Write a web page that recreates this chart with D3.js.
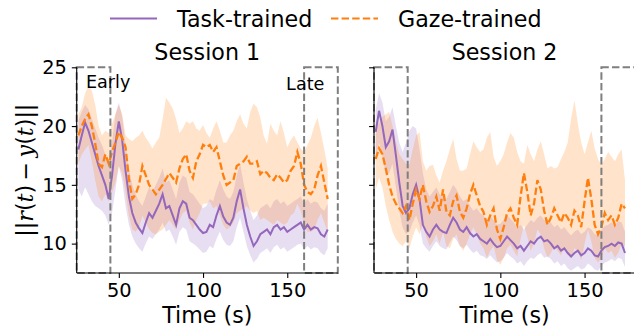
<!DOCTYPE html>
<html>
<head>
<meta charset="utf-8">
<script src="https://cdn.jsdelivr.net/npm/d3@7"></script>
<style>
  body { margin: 0; background: #fff; }
  text { font-family: "DejaVu Sans", sans-serif; fill: #000; }
</style>
</head>
<body>
<div id="chart-container"></div>
<script>
// sample times (s)
const timeS = [26, 28, 30, 32, 34, 36, 38, 40, 42, 44, 46, 48, 50, 52, 54, 56, 58, 60, 62, 64,
  66, 68, 70, 72, 74, 76, 78, 80, 82, 84, 86, 88, 90, 92, 94, 96, 98, 100, 102, 104,
  106, 108, 110, 112, 114, 116, 118, 120, 122, 124, 126, 128, 130, 132, 134, 136, 138, 140, 142, 144,
  146, 148, 150, 152, 154, 156, 158, 160, 162, 164, 166, 168, 170, 172, 174];

const sessions = ['Session 1', 'Session 2'];
const seriesNames = ['Task-trained', 'Gaze-trained'];
const xTicks = [50, 100, 150];
const yTicks = [10, 15, 20, 25];
const earlyWindow = [25, 45];
const lateWindow = [160, 180];

// Session 1
const task1 = [18.0, 19.2, 20.3, 19.6, 18.6, 17.6, 16.6, 15.8, 15.0, 13.8,
  15.8, 18.5, 20.4, 18.8, 16.2, 14.0, 12.6, 11.8, 11.3, 10.9,
  11.8, 12.6, 12.2, 12.8, 13.4, 14.2, 13.0, 13.2, 12.4, 11.6,
  13.0, 13.6, 13.4, 12.2, 12.0, 11.6, 11.2, 10.9, 11.0, 11.6,
  11.4, 12.4, 13.2, 12.3, 11.8, 11.6, 12.2, 13.6, 14.6, 13.0,
  11.6, 10.6, 9.8, 10.2, 10.8, 11.0, 11.2, 10.8, 11.4, 11.6,
  11.2, 11.4, 11.0, 11.2, 11.4, 11.6, 11.8, 11.2, 11.6, 11.2,
  11.4, 11.3, 10.8, 10.6, 11.2];
const task1Hi = [20.5, 21.2, 21.8, 21.4, 20.6, 19.8, 19.0, 18.4, 17.6, 17.0,
  18.6, 21.0, 22.0, 20.8, 18.4, 16.4, 15.0, 14.2, 13.6, 13.2,
  14.0, 14.8, 14.4, 15.0, 15.6, 16.4, 15.2, 15.4, 14.6, 13.8,
  15.2, 15.8, 15.6, 14.4, 14.2, 13.8, 13.4, 13.0, 13.2, 13.8,
  13.6, 14.6, 15.4, 14.6, 14.0, 13.8, 14.4, 15.8, 16.8, 15.2,
  13.8, 12.8, 12.0, 12.4, 13.0, 13.2, 13.4, 13.0, 13.6, 13.8,
  13.4, 13.6, 13.2, 13.4, 13.6, 13.8, 14.0, 13.4, 13.8, 13.4,
  13.6, 13.5, 13.0, 12.8, 13.4];
const task1Lo = [14.6, 14.0, 14.8, 14.2, 13.6, 13.2, 13.0, 12.8, 12.4, 11.6,
  12.6, 14.6, 16.6, 15.4, 13.2, 11.6, 10.6, 10.0, 9.6, 9.3,
  10.0, 10.6, 10.4, 10.8, 11.2, 11.8, 11.0, 11.2, 10.6, 9.9,
  11.0, 11.4, 11.2, 10.2, 10.0, 9.8, 9.5, 9.2, 9.3, 9.8,
  9.6, 10.4, 11.0, 10.3, 9.9, 9.8, 10.2, 11.4, 12.2, 11.0,
  9.8, 9.0, 8.4, 8.7, 9.2, 9.4, 9.6, 9.2, 9.7, 9.9,
  9.5, 9.7, 9.3, 9.5, 9.7, 9.9, 10.0, 9.5, 9.8, 9.5,
  9.7, 9.6, 9.2, 9.0, 9.6];
const gaze1 = [19.2, 20.0, 20.6, 21.0, 20.0, 18.5, 16.8, 16.5, 17.6, 16.8,
  17.8, 18.6, 19.5, 19.0, 18.2, 15.5, 13.8, 14.2, 15.0, 16.6,
  15.8, 15.0, 14.6, 14.2, 14.6, 15.0, 15.5, 16.0, 15.6, 15.2,
  16.4, 17.2, 17.6, 16.2, 15.6, 17.0, 17.6, 18.4, 18.2, 18.4,
  17.8, 18.2, 17.0, 15.8, 15.0, 15.2, 15.4, 16.6, 16.8, 17.0,
  17.4, 16.8, 16.8, 17.0, 15.9, 16.2, 16.0, 15.6, 15.4, 15.9,
  15.6, 15.2, 15.4, 16.2, 16.6, 17.8, 16.8, 15.0, 14.4, 14.2,
  14.6, 15.8, 16.6, 15.2, 13.8];
const gaze1Hi = [21.0, 21.6, 22.8, 23.4, 23.0, 21.8, 20.0, 19.2, 19.6, 19.4,
  20.2, 21.0, 21.8, 21.0, 19.2, 18.9, 18.7, 19.0, 19.2, 19.6,
  19.0, 18.6, 18.1, 18.6, 19.0, 20.6, 22.4, 22.0, 21.5, 20.6,
  19.4, 19.8, 20.4, 20.2, 20.4, 19.8, 19.6, 20.1, 19.4, 19.0,
  19.8, 20.4, 19.6, 18.6, 18.6, 19.2, 19.6, 20.4, 21.0, 20.2,
  19.8, 21.2, 21.9, 21.6, 20.7, 19.2, 18.5, 20.2, 19.6, 19.2,
  20.4, 19.4, 18.2, 18.8, 19.2, 18.6, 18.1, 17.8, 18.4, 19.0,
  20.0, 20.7, 19.4, 18.0, 16.4];
const gaze1Lo = [16.8, 17.6, 18.0, 18.4, 17.0, 15.4, 14.0, 13.6, 14.2, 13.6,
  14.4, 15.2, 16.6, 16.0, 14.4, 12.4, 11.2, 11.0, 11.4, 12.4,
  11.8, 11.2, 10.9, 10.8, 11.0, 11.2, 11.6, 12.0, 11.6, 11.2,
  12.0, 12.6, 12.8, 11.8, 11.2, 12.0, 12.6, 13.4, 13.4, 13.6,
  13.0, 13.2, 12.4, 11.6, 11.2, 11.4, 11.8, 12.6, 12.8, 13.0,
  13.2, 12.8, 12.6, 12.8, 12.0, 12.2, 12.0, 11.8, 11.6, 12.0,
  11.8, 11.6, 11.8, 12.4, 12.6, 13.4, 12.8, 11.6, 11.0, 11.0,
  11.2, 12.0, 12.6, 11.8, 11.0];

// Session 2
const task2 = [19.5, 21.3, 20.0, 18.2, 18.7, 19.7, 17.5, 15.2, 13.2, 12.6,
  13.0, 14.2, 15.0, 13.8, 11.6, 11.0, 10.6, 11.2, 11.6, 11.2,
  11.0, 10.9, 11.6, 12.2, 11.8, 11.2, 11.0, 11.4, 10.9, 10.6,
  10.8, 10.4, 10.2, 10.0, 10.4, 10.0, 9.7, 9.8, 10.2, 10.6,
  10.3, 10.0, 9.6, 9.8, 9.4, 9.8, 10.2, 10.0, 10.4, 10.6,
  10.2, 10.3, 10.0, 9.6, 9.8, 9.4, 9.6, 9.2, 8.9, 9.2,
  9.4, 9.0, 9.2, 9.6, 9.4, 9.0, 8.9, 9.4, 9.7, 9.8,
  10.0, 9.8, 10.1, 10.0, 9.2];
const task2Hi = [21.4, 22.8, 22.0, 20.4, 20.8, 21.6, 20.0, 18.6, 17.8, 18.6,
  19.6, 20.0, 19.8, 18.0, 16.0, 14.6, 14.0, 14.4, 14.8, 14.2,
  14.0, 13.8, 14.4, 15.0, 14.6, 14.0, 13.6, 13.8, 13.2, 12.8,
  13.0, 12.6, 12.4, 12.0, 12.4, 12.0, 11.6, 11.7, 12.0, 12.4,
  12.1, 11.8, 11.4, 11.6, 11.2, 11.6, 12.0, 11.8, 12.2, 12.4,
  12.0, 12.1, 11.8, 11.4, 11.6, 11.2, 11.4, 11.0, 10.7, 11.0,
  11.2, 10.8, 11.0, 11.4, 11.2, 10.8, 10.7, 11.2, 11.5, 11.6,
  11.8, 11.6, 11.9, 11.8, 11.0];
const task2Lo = [17.0, 18.6, 17.4, 15.8, 16.0, 16.8, 14.8, 12.8, 11.4, 10.8,
  11.0, 11.8, 12.4, 11.6, 10.0, 9.6, 9.3, 9.8, 10.2, 9.8,
  9.6, 9.5, 10.1, 10.6, 10.3, 9.8, 9.6, 9.9, 9.5, 9.2,
  9.4, 9.0, 8.9, 8.7, 9.0, 8.7, 8.4, 8.5, 8.8, 9.2,
  8.9, 8.7, 8.3, 8.5, 8.1, 8.5, 8.8, 8.7, 9.0, 9.2,
  8.8, 8.9, 8.7, 8.3, 8.5, 8.1, 8.3, 7.9, 7.7, 7.9,
  8.1, 7.8, 7.9, 8.3, 8.1, 7.8, 7.7, 8.1, 8.4, 8.5,
  8.7, 8.5, 8.8, 8.7, 8.0];
const gaze2 = [17.2, 18.1, 17.6, 16.4, 15.0, 14.0, 13.4, 13.0, 12.6, 13.2,
  12.0, 13.4, 14.6, 13.8, 15.0, 13.6, 12.7, 13.2, 14.0, 12.8,
  14.6, 12.7, 12.4, 13.6, 14.1, 12.7, 12.2, 13.0, 14.2, 15.0,
  14.1, 13.2, 12.7, 11.6, 12.4, 13.0, 11.2, 10.4, 11.4, 12.6,
  13.0, 12.2, 11.6, 14.0, 16.0, 14.4, 12.4, 13.4, 15.4, 14.6,
  12.8, 11.6, 12.2, 13.0, 12.4, 11.8, 12.6, 12.2, 11.6, 12.8,
  12.4, 11.4, 13.6, 15.6, 13.8, 11.6, 10.8, 11.4, 12.6, 12.0,
  12.4, 11.6, 12.2, 13.4, 13.0];
const gaze2Hi = [20.4, 20.2, 20.8, 21.0, 21.2, 20.0, 18.7, 17.6, 17.2, 16.8,
  16.7, 18.0, 19.2, 19.5, 17.0, 16.2, 16.6, 16.7, 15.8, 15.2,
  16.2, 17.0, 18.0, 18.9, 17.2, 16.2, 16.2, 16.4, 17.6, 18.7,
  18.2, 17.8, 18.0, 19.0, 19.5, 17.4, 16.6, 17.0, 17.6, 18.6,
  19.4, 19.0, 17.8, 17.0, 16.8, 18.4, 17.6, 17.0, 18.0, 18.7,
  17.6, 16.4, 16.6, 16.4, 16.5, 17.2, 17.8, 18.6, 20.6, 22.2,
  20.2, 18.6, 17.6, 18.6, 19.6, 18.1, 17.2, 16.7, 17.2, 17.8,
  17.4, 17.0, 17.6, 18.0, 15.4];
const gaze2Lo = [14.6, 15.6, 14.8, 13.2, 12.0, 11.0, 10.4, 10.0, 9.8, 10.2,
  9.6, 10.6, 11.4, 10.8, 11.6, 10.6, 9.8, 10.2, 10.8, 10.0,
  11.0, 9.8, 9.6, 10.4, 10.8, 9.8, 9.4, 10.0, 10.8, 11.4,
  10.8, 10.0, 9.6, 8.8, 9.4, 9.8, 8.6, 8.2, 8.8, 9.6,
  9.9, 9.4, 8.9, 10.4, 11.6, 10.6, 9.4, 10.0, 11.2, 10.8,
  9.6, 8.8, 9.2, 9.8, 9.4, 9.0, 9.6, 9.2, 8.8, 9.6,
  9.4, 8.6, 10.0, 11.2, 10.2, 8.8, 8.4, 8.8, 9.6, 9.2,
  9.4, 8.8, 9.2, 10.0, 9.8];

const panels = [
  { title: sessions[0], task: task1, taskHi: task1Hi, taskLo: task1Lo, gaze: gaze1, gazeHi: gaze1Hi, gazeLo: gaze1Lo, left: 76.7, showY: true },
  { title: sessions[1], task: task2, taskHi: task2Hi, taskLo: task2Lo, gaze: gaze2, gazeHi: gaze2Hi, gazeLo: gaze2Lo, left: 374, showY: false }
];

const purple = '#9467bd';
const orange = '#ff7f0e';
const W = 634, H = 330;
const plotTop = 67.3, plotBottom = 273, panelW = 261.1;

const svg = d3.select('#chart-container')
  .append('svg')
  .attr('width', W)
  .attr('height', H);

const yScale = d3.scaleLinear().domain([7.5, 25]).range([plotBottom, plotTop]);

panels.forEach(p => {
  const xScale = d3.scaleLinear().domain([25, 180]).range([p.left, p.left + panelW]);
  const g = svg.append('g');

  const area = (lo, hi) => d3.area()
    .x((d, i) => xScale(timeS[i]))
    .y0((d, i) => yScale(lo[i]))
    .y1((d, i) => yScale(hi[i]));
  const line = d3.line()
    .x((d, i) => xScale(timeS[i]))
    .y(d => yScale(d));

  g.append('path').datum(p.taskLo)
    .attr('d', area(p.taskLo, p.taskHi))
    .attr('fill', purple).attr('fill-opacity', 0.22);
  g.append('path').datum(p.gazeLo)
    .attr('d', area(p.gazeLo, p.gazeHi))
    .attr('fill', orange).attr('fill-opacity', 0.22);

  g.append('path').datum(p.task)
    .attr('d', line)
    .attr('fill', 'none').attr('stroke', purple).attr('stroke-width', 2);
  g.append('path').datum(p.gaze)
    .attr('d', line)
    .attr('fill', 'none').attr('stroke', orange).attr('stroke-width', 2.3)
    .attr('stroke-dasharray', '7.4,3.2');

  // early / late windows
  [earlyWindow, lateWindow].forEach(w => {
    g.append('rect')
      .attr('x', xScale(w[0]))
      .attr('y', yScale(25))
      .attr('width', xScale(w[1]) - xScale(w[0]))
      .attr('height', yScale(7.5) - yScale(25))
      .attr('fill', 'none')
      .attr('stroke', '#7f7f7f')
      .attr('stroke-width', 2)
      .attr('stroke-dasharray', '7.4,3.2');
  });

  // axes
  const xAxis = g.append('g')
    .attr('transform', `translate(0,${plotBottom})`)
    .call(d3.axisBottom(xScale).tickValues(xTicks).tickSize(4.9).tickPadding(4.9));
  const yAxis = g.append('g')
    .attr('transform', `translate(${p.left},0)`)
    .call(d3.axisLeft(yScale).tickValues(yTicks).tickSize(4.9).tickPadding(4.9)
      .tickFormat(p.showY ? d3.format('d') : ''));
  [xAxis, yAxis].forEach(a => {
    a.select('.domain').attr('stroke', '#000').attr('stroke-width', 1.1);
    a.selectAll('.tick line').attr('stroke', '#000').attr('stroke-width', 1.1);
    a.selectAll('.tick text')
      .style('font-family', '"DejaVu Sans", sans-serif')
      .style('font-size', '19.4px')
      .attr('fill', '#000');
  });
  xAxis.select('.domain').attr('d', `M${p.left},0H${p.left + panelW}`);
  yAxis.select('.domain').attr('d', `M0,${plotBottom}V${plotTop}`);

  g.append('text')
    .attr('x', p.left + panelW / 2)
    .attr('y', 60)
    .attr('text-anchor', 'middle')
    .style('font-size', '22.2px')
    .text(p.title);

  g.append('text')
    .attr('x', p.left + panelW / 2)
    .attr('y', 322.5)
    .attr('text-anchor', 'middle')
    .style('font-size', '22.2px')
    .text('Time (s)');

  if (p.showY) {
    g.append('text')
      .attr('x', xScale(30.5))
      .attr('y', yScale(23.2))
      .style('font-size', '17.6px')
      .text('Early');
    g.append('text')
      .attr('x', xScale(149.3))
      .attr('y', yScale(23.1))
      .style('font-size', '17.6px')
      .text('Late');
  }
});

// y label: ||r(t) - y(t)||
const yl = svg.append('text')
  .attr('transform', `translate(33,${(plotTop + plotBottom) / 2}) rotate(-90)`)
  .attr('text-anchor', 'middle')
  .style('font-size', '22.2px');
const parts = [['||', false], ['r', true], ['(', false], ['t', true], [')\u2009\u2212\u2009', false],
  ['y', true], ['(', false], ['t', true], [')||', false]];
parts.forEach(([s, it]) => {
  yl.append('tspan')
    .style('font-family', it ? '"DejaVu Serif", serif' : '"DejaVu Sans", sans-serif')
    .style('font-style', it ? 'italic' : 'normal')
    .text(s);
});

// legend
const legend = svg.append('g');
seriesNames.forEach((name, i) => {
  const lx = [110, 331][i];
  legend.append('line')
    .attr('x1', lx).attr('x2', lx + 47)
    .attr('y1', 18.5).attr('y2', 18.5)
    .attr('stroke', i === 0 ? purple : orange)
    .attr('stroke-width', 2.2)
    .attr('stroke-dasharray', i === 0 ? null : '7.4,3.2');
  legend.append('text')
    .attr('x', lx + 67)
    .attr('y', 26.5)
    .style('font-size', '22.2px')
    .text(name);
});
</script>
</body>
</html>
